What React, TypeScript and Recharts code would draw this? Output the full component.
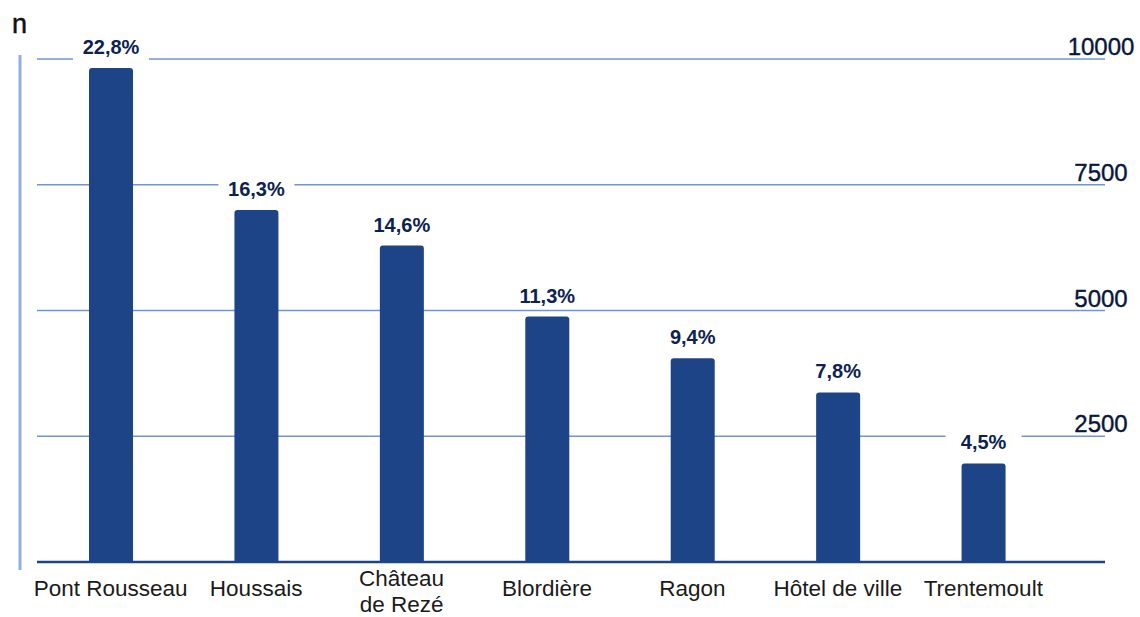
import React from "react"
import { BarChart, Bar, XAxis, YAxis, CartesianGrid, LabelList } from "recharts"

const quartiers = ["Pont Rousseau", "Houssais", "Château\nde Rezé", "Blordière", "Ragon", "Hôtel de ville", "Trentemoult"]
const effectifs = [9820, 7000, 6290, 4880, 4050, 3370, 1960]
const parts = ["22,8%", "16,3%", "14,6%", "11,3%", "9,4%", "7,8%", "4,5%"]
const yTicks = [0, 2500, 5000, 7500, 10000]

const data = quartiers.map((q, i) => ({ name: q, n: effectifs[i], pct: parts[i] }))

const FONT = "'Liberation Sans', Arial, Helvetica, sans-serif"
const BAR = "#1e4488"
const GRID = "#6f95d8"

function CategoryTick({ x, y, payload }: any) {
  const lines = String(payload.value).split("\n")
  const first = lines.length > 1 ? y + 16 : y + 26
  return (
    <text x={x} y={first} textAnchor="middle" fontFamily={FONT} fontSize={22.5} fill="#1a1a1a">
      {lines.map((l, i) => (
        <tspan key={i} x={x} dy={i === 0 ? 0 : 26}>{l}</tspan>
      ))}
    </text>
  )
}

function ValueTick({ x, y, payload }: any) {
  if (payload.value === 0) return null
  return (
    <text x={x - 12} y={y - 4} textAnchor="middle" fontFamily={FONT} fontSize={24} fill="#08173a" stroke="#08173a" strokeWidth={0.4}>
      {payload.value}
    </text>
  )
}

function PctLabel({ x, y, width, value }: any) {
  const cx = x + width / 2
  return (
    <g>
      <rect x={cx - 38} y={y - 32} width={76} height={24} fill="#fff" />
      <text x={cx} y={y - 14} textAnchor="middle" fontFamily={FONT} fontSize={20} fontWeight="bold" fill="#0c2251">
        {value}
      </text>
    </g>
  )
}

function AxisN({ viewBox }: any) {
  const { x, y, height } = viewBox
  return (
    <g>
      <line x1={x + 20} y1={y - 4} x2={x + 20} y2={y + height + 8} stroke="#8fb0e6" strokeWidth={3} />
      <text x={x + 12} y={y - 26} fontFamily={FONT} fontSize={27} fill="#111" stroke="#111" strokeWidth={0.5}>n</text>
    </g>
  )
}

export default function App() {
  return (
    <div style={{ position: "absolute", left: 0, top: 0, background: "#fff" }}>
      <BarChart width={1140} height={617} data={data} margin={{ top: 59, right: 0, bottom: 0, left: 0 }}>
        <CartesianGrid yAxisId="r" vertical={false} stroke={GRID} strokeWidth={1.5} />
        <XAxis
          dataKey="name"
          height={55}
          padding={{ left: 1, right: 49 }}
          axisLine={{ stroke: "#1e4488", strokeWidth: 2.5 }}
          tickLine={false}
          tick={<CategoryTick />}
          interval={0}
        />
        <YAxis yAxisId="l" orientation="left" width={37} domain={[0, 10000]} tick={false} tickLine={false} axisLine={false} label={<AxisN />} />
        <YAxis
          yAxisId="r"
          orientation="right"
          width={35}
          domain={[0, 10000]}
          ticks={yTicks}
          axisLine={false}
          tickLine={false}
          tick={<ValueTick />}
        />
        <Bar yAxisId="r" dataKey="n" fill={BAR} barSize={44} radius={[3, 3, 0, 0]} isAnimationActive={false}>
          <LabelList dataKey="pct" content={<PctLabel />} />
        </Bar>
      </BarChart>
    </div>
  )
}
